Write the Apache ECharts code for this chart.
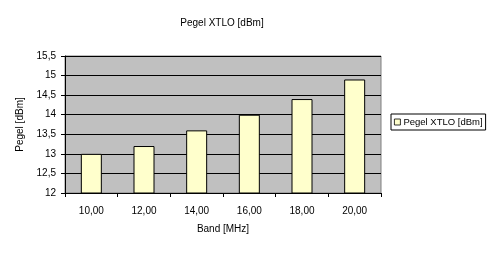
<!DOCTYPE html>
<html><head><meta charset="utf-8">
<script src="https://cdn.jsdelivr.net/npm/echarts@6/dist/echarts.min.js"></script>
<style>html,body{margin:0;padding:0;background:#fff}#c{width:499px;height:257px}</style>
</head><body><div id="c"></div>
<script>
const categories = ['10,00','12,00','14,00','16,00','18,00','20,00'];
const values = [13.0, 13.2, 13.6, 14.0, 14.4, 14.9];
const seriesName = 'Pegel XTLO [dBm]';
const chartTitle = 'Pegel XTLO [dBm]';
const xName = 'Band [MHz]';
const yName = 'Pegel [dBm]';

const font = 'Liberation Sans, Arial, sans-serif';
const chart = echarts.init(document.getElementById('c'), null, {renderer:'canvas'});
chart.setOption({
  animation:false,
  backgroundColor:'#fff',
  title:{text:chartTitle,left:217,top:13,textAlign:'center',
    textStyle:{fontFamily:font,fontSize:10,fontWeight:'normal',color:'#000'}},
  legend:{data:[seriesName],left:391,top:114,orient:'vertical',
    backgroundColor:'#fff',borderColor:'#000',borderWidth:1,padding:[3,3,3,3],
    itemWidth:6,itemHeight:6,itemGap:0,icon:'rect',
    itemStyle:{borderColor:'#000',borderWidth:0.8},
    textStyle:{fontFamily:font,fontSize:9.5,color:'#000',padding:[0,0,0,-2]}},
  grid:{left:65,top:56,width:316,height:137,show:true,backgroundColor:'#c0c0c0',
    borderColor:'#808080',borderWidth:1,containLabel:false},
  xAxis:{type:'category',data:categories,name:xName,nameLocation:'middle',nameGap:31,
    nameTextStyle:{fontFamily:font,fontSize:10,color:'#000'},
    axisLine:{lineStyle:{color:'#000',width:1}},
    axisTick:{show:true,length:4,lineStyle:{color:'#000'}},
    axisLabel:{fontFamily:font,fontSize:10,color:'#000',margin:13},
    splitLine:{show:false}},
  yAxis:{type:'value',min:12,max:15.5,interval:0.5,name:yName,nameLocation:'middle',nameGap:40,
    nameTextStyle:{fontFamily:font,fontSize:10,color:'#000'},
    axisLine:{show:true,lineStyle:{color:'#000',width:1}},
    axisTick:{show:true,length:4,lineStyle:{color:'#000'}},
    axisLabel:{fontFamily:font,fontSize:10,color:'#000',margin:9,
      formatter:v=>String(v).replace('.',',')},
    splitLine:{show:true,lineStyle:{color:'#000',width:1}}},
  series:[{name:seriesName,type:'bar',data:values,barWidth:21,
    itemStyle:{color:'#ffffcc',borderColor:'#000',borderWidth:1}}]
});
</script></body></html>
